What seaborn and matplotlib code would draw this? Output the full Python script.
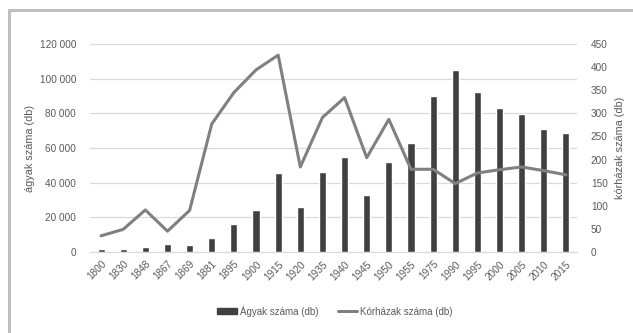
import matplotlib
matplotlib.use("Agg")
import matplotlib.pyplot as plt
import seaborn as sns
import numpy as np
import pandas as pd
from matplotlib.lines import Line2D
from matplotlib.patches import Patch

years = ["1800", "1830", "1848", "1867", "1869", "1881", "1895", "1900", "1915", "1920", "1935",
         "1940", "1945", "1950", "1955", "1975", "1990", "1995", "2000", "2005", "2010", "2015"]
beds = [1500, 1900, 2700, 4400, 3900, 8100, 16200, 24500, 45500, 26000, 46400,
        54900, 32900, 52200, 62600, 90000, 104800, 92500, 83200, 79400, 71100, 68400]
hospitals = [35, 49, 91, 45, 90, 277, 345, 394, 426, 184, 291,
             334, 204, 287, 179, 179, 148, 171, 178, 184, 176, 167]

left_ticks = [0, 20000, 40000, 60000, 80000, 100000, 120000]
right_ticks = [0, 50, 100, 150, 200, 250, 300, 350, 400, 450]

sns.set_style("white")
plt.rcParams['font.family'] = ['Liberation Sans', 'DejaVu Sans']

txt = "#595959"
bar_c = "#404040"
line_c = "#808080"
grid_c = "#d9d9d9"

fig = plt.figure(figsize=(6.33, 3.33), dpi=100)
ax = fig.add_axes([90/633, 1-252/333, (577-90)/633, (252-44)/333])

df = pd.DataFrame({"year": years, "beds": beds, "hospitals": hospitals})
sns.barplot(data=df, x="year", y="beds", color=bar_c, width=0.32, ax=ax,
            saturation=1, zorder=3)
ax.set_ylim(0, 120000)
ax.set_yticks(left_ticks)
ax.set_yticklabels([f"{v:,}".replace(",", " ") for v in left_ticks])
ax.set_xlim(-0.5, len(years) - 0.5)
ax.grid(axis="y", color=grid_c, linewidth=0.9, zorder=0)
ax.set_axisbelow(True)
for s in ax.spines.values():
    s.set_visible(False)
ax.spines["bottom"].set_visible(True)
ax.spines["bottom"].set_color(grid_c)
ax.tick_params(axis="y", length=0, labelsize=7.2, labelcolor=txt, pad=10)
ax.tick_params(axis="x", length=0, labelsize=7.2, labelcolor=txt, pad=5)
for lab in ax.get_xticklabels():
    lab.set_rotation(45)
    lab.set_ha("right")
    lab.set_rotation_mode("anchor")
ax.set_xlabel("")
ax.set_ylabel("ágyak száma (db)", color=txt, fontsize=7.8, labelpad=3)

ax2 = ax.twinx()
sns.lineplot(x=np.arange(len(years)), y=hospitals, color=line_c, linewidth=2.2, ax=ax2, zorder=4)
ax2.set_ylim(0, 450)
ax2.set_yticks(right_ticks)
ax2.tick_params(axis="y", length=0, labelsize=7.2, labelcolor=txt, pad=10)
for s in ax2.spines.values():
    s.set_visible(False)
ax2.set_ylabel("kórházak száma (db)", color=txt, fontsize=7.8, rotation=90, labelpad=5)
ax2.grid(False)

handles = [Patch(facecolor=bar_c, edgecolor=bar_c),
           Line2D([0], [0], color=line_c, linewidth=2.2)]
fig.legend(handles, ["Ágyak száma (db)", "Kórházak száma (db)"], loc="center",
           bbox_to_anchor=(335/633, 1-311/333), ncol=2, frameon=False, fontsize=7,
           labelcolor=txt, handlelength=2.0, handleheight=0.6, columnspacing=2.0,
           handletextpad=0.3)

# outer frame (left and top)
fig.add_artist(Line2D([8.5/633, 8.5/633], [0, 1-10/333], color="#bfbfbf", linewidth=2.2,
                      transform=fig.transFigure))
fig.add_artist(Line2D([8.5/633, 1], [1-10/333, 1-10/333], color="#bfbfbf", linewidth=2.2,
                      transform=fig.transFigure))

fig.savefig("out.png", dpi=100)
